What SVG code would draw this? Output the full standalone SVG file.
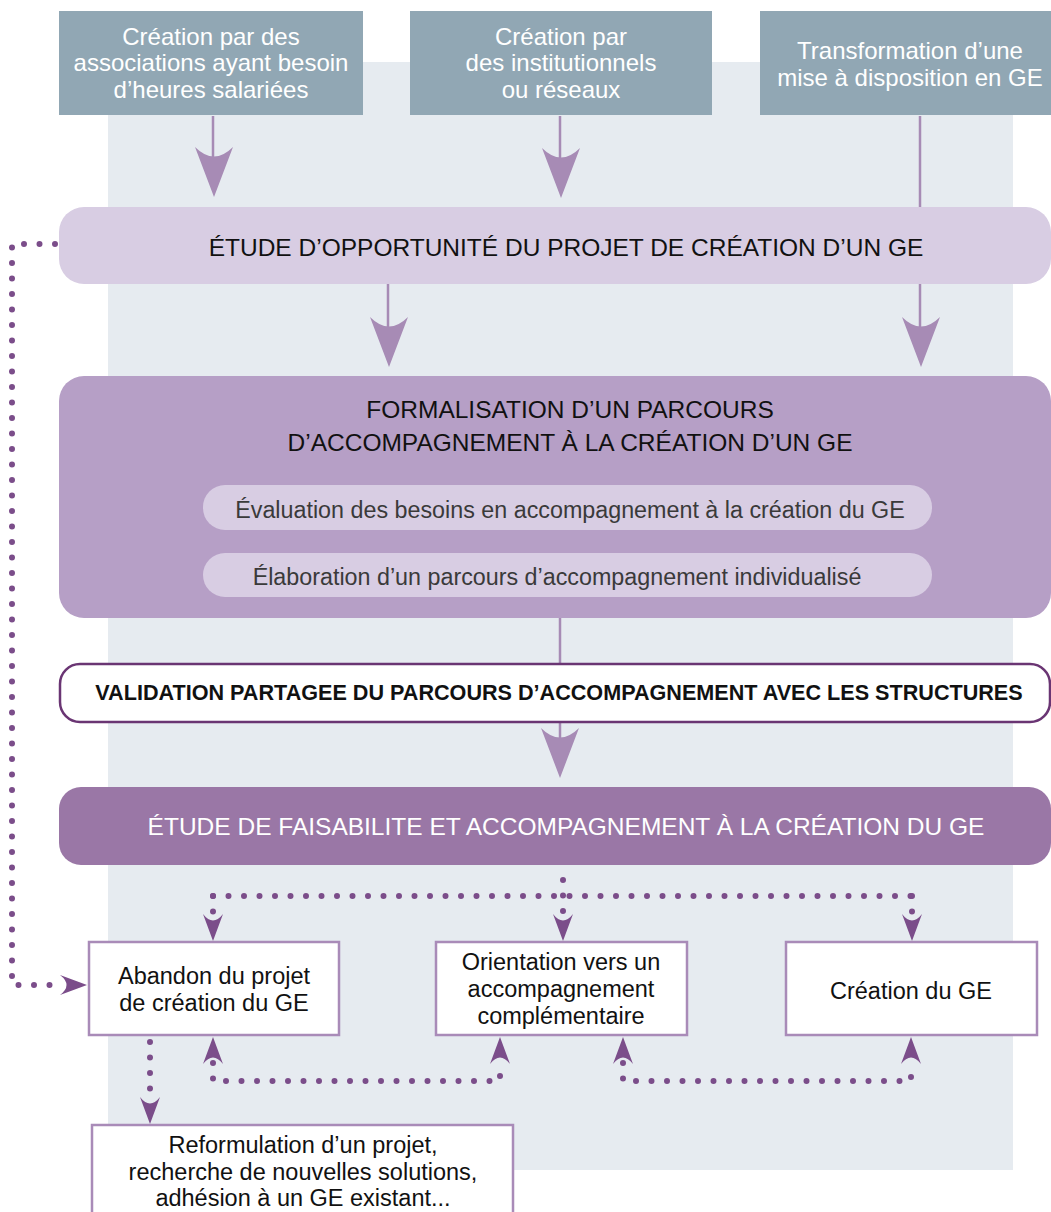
<svg xmlns="http://www.w3.org/2000/svg" width="1051" height="1212" viewBox="0 0 1051 1212">
<style>
  text { font-family: "Liberation Sans", Arial, sans-serif; text-anchor: middle; }
  .top { fill: #91a7b4; }
  .toptxt { fill: #ffffff; font-size: 24px; }
  .title { fill: #111111; font-size: 24.5px; }
  .pill { fill: #d8cde3; }
  .pilltxt { fill: #3a3a3a; font-size: 23.3px; }
  .res { fill: #ffffff; stroke: #a98bb8; stroke-width: 2.5; }
  .restxt { fill: #111111; font-size: 23.5px; }
  .solid { stroke: #a78bb5; stroke-width: 2.5; fill: none; }
  .dots { stroke: #7b4d8a; stroke-width: 6; stroke-linecap: round; stroke-dasharray: 0 15.5; fill: none; }
  .hl { fill: #a78bb5; }
  .hd { fill: #7b4d8a; }
</style>
<defs>
  <path id="headL" d="M0,0 L-19,-50 Q0,-31 19,-50 Z"/>
  <path id="headD" d="M0,0 L-10,-27 Q0,-14 10,-27 Z"/>
</defs>

<rect id="panel" x="108" y="62" width="905" height="1108" fill="#e6ebf0"/>

<g id="connectors">
  <line class="solid" x1="213" y1="116" x2="213" y2="165"/>
  <use href="#headL" class="hl" transform="translate(214,197)"/>
  <line class="solid" x1="560" y1="116" x2="560" y2="165"/>
  <use href="#headL" class="hl" transform="translate(561,198)"/>
  <line class="solid" x1="920" y1="116" x2="920" y2="330"/>
  <line class="solid" x1="388" y1="284" x2="388" y2="330"/>
  <use href="#headL" class="hl" transform="translate(389,367)"/>
  <use href="#headL" class="hl" transform="translate(921,367)"/>
  <line class="solid" x1="560" y1="617" x2="560" y2="664"/>
  <line class="solid" x1="560" y1="722" x2="560" y2="745"/>
  <use href="#headL" class="hl" transform="translate(560,778)"/>

  <path class="dots" d="M55,244 L12,244 L12,985 L60,985"/>
  <use href="#headD" class="hd" transform="translate(87,985) rotate(-90)"/>

  <path class="dots" d="M563,880 L563,912"/>
  <path class="dots" d="M213,896 L912,896"/>
  <path class="dots" d="M213,896 L213,913"/>
  <path class="dots" d="M912,896 L912,913"/>
  <use href="#headD" class="hd" transform="translate(213,941)"/>
  <use href="#headD" class="hd" transform="translate(563,941)"/>
  <use href="#headD" class="hd" transform="translate(912,941)"/>

  <path class="dots" d="M213,1063 L213,1081 L500,1081 L500,1063"/>
  <path class="dots" d="M623,1063 L623,1081 L911,1081 L911,1063"/>
  <use href="#headD" class="hd" transform="translate(213,1037) rotate(180)"/>
  <use href="#headD" class="hd" transform="translate(500,1037) rotate(180)"/>
  <use href="#headD" class="hd" transform="translate(623,1037) rotate(180)"/>
  <use href="#headD" class="hd" transform="translate(911,1037) rotate(180)"/>

  <path class="dots" d="M150,1042 L150,1097"/>
  <use href="#headD" class="hd" transform="translate(150,1124)"/>
</g>

<g id="src1">
  <rect class="top" x="59" y="11" width="304" height="104"/>
  <text class="toptxt" x="211" y="45">Création par des</text>
  <text class="toptxt" x="211" y="71">associations ayant besoin</text>
  <text class="toptxt" x="211" y="98">d’heures salariées</text>
</g>
<g id="src2">
  <rect class="top" x="410" y="11" width="302" height="104"/>
  <text class="toptxt" x="561" y="45">Création par</text>
  <text class="toptxt" x="561" y="71">des institutionnels</text>
  <text class="toptxt" x="561" y="98">ou réseaux</text>
</g>
<g id="src3">
  <rect class="top" x="760" y="11" width="291" height="104"/>
  <text class="toptxt" x="910" y="59">Transformation d’une</text>
  <text class="toptxt" x="910" y="86">mise à disposition en GE</text>
</g>

<g id="opportunite">
  <rect x="59" y="207" width="992" height="77" rx="25" fill="#d8cde3"/>
  <text class="title" x="566" y="256">ÉTUDE D’OPPORTUNITÉ DU PROJET DE CRÉATION D’UN GE</text>
</g>

<g id="formalisation">
  <rect x="59" y="376" width="992" height="242" rx="25" fill="#b69fc6"/>
  <text class="title" x="570" y="418">FORMALISATION D’UN PARCOURS</text>
  <text class="title" x="570" y="451">D’ACCOMPAGNEMENT À LA CRÉATION D’UN GE</text>
  <g id="evaluation">
    <rect class="pill" x="203" y="485" width="729" height="45" rx="22"/>
    <text class="pilltxt" x="570" y="518">Évaluation des besoins en accompagnement à la création du GE</text>
  </g>
  <g id="elaboration">
    <rect class="pill" x="203" y="553" width="729" height="44" rx="22"/>
    <text class="pilltxt" x="557" y="585">Élaboration d’un parcours d’accompagnement individualisé</text>
  </g>
</g>

<g id="validation">
  <rect x="60" y="664" width="990" height="58" rx="20" fill="#ffffff" stroke="#6a3573" stroke-width="2.5"/>
  <text x="559" y="700" style="font-size:21.6px;font-weight:bold;fill:#111">VALIDATION PARTAGEE DU PARCOURS D’ACCOMPAGNEMENT AVEC LES STRUCTURES</text>
</g>

<g id="faisabilite">
  <rect x="59" y="787" width="992" height="78" rx="22" fill="#9a77a6"/>
  <text x="566" y="835" style="font-size:24.5px;fill:#ffffff">ÉTUDE DE FAISABILITE ET ACCOMPAGNEMENT À LA CRÉATION DU GE</text>
</g>

<g id="abandon">
  <rect class="res" x="89" y="942" width="250" height="93"/>
  <text class="restxt" x="214" y="984">Abandon du projet</text>
  <text class="restxt" x="214" y="1011">de création du GE</text>
</g>
<g id="orientation">
  <rect class="res" x="436" y="942" width="251" height="93"/>
  <text class="restxt" x="561" y="970">Orientation vers un</text>
  <text class="restxt" x="561" y="997">accompagnement</text>
  <text class="restxt" x="561" y="1024">complémentaire</text>
</g>
<g id="creation">
  <rect class="res" x="786" y="942" width="251" height="93"/>
  <text class="restxt" x="911" y="999">Création du GE</text>
</g>
<g id="reformulation">
  <rect class="res" x="92" y="1125" width="421" height="100"/>
  <text class="restxt" x="303" y="1153">Reformulation d’un projet,</text>
  <text class="restxt" x="303" y="1180">recherche de nouvelles solutions,</text>
  <text class="restxt" x="303" y="1206">adhésion à un GE existant...</text>
</g>
</svg>
